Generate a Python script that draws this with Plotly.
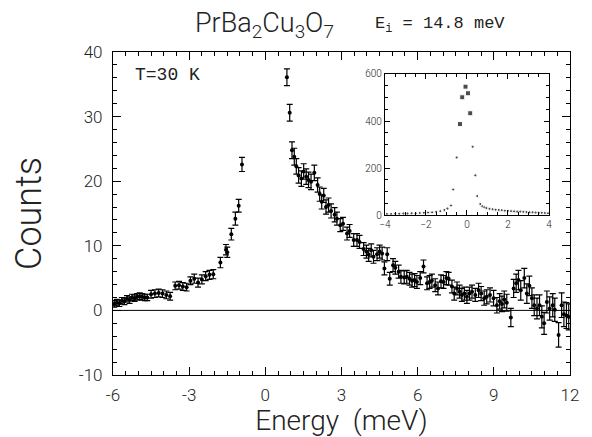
import plotly.graph_objects as go

# ---- main data (Energy meV, Counts, error) ----
energy_left = [-5.95, -5.85, -5.75, -5.65, -5.55, -5.45, -5.35, -5.25, -5.15, -5.05,
               -4.95, -4.85, -4.75, -4.65, -4.5, -4.35, -4.2, -4.05, -3.9, -3.75,
               -3.55, -3.4, -3.25, -3.1, -2.95, -2.8, -2.65, -2.5, -2.35, -2.2,
               -2.05, -1.77, -1.55, -1.5, -1.34, -1.18, -1.05, -0.92]
counts_left = [1.0, 1.2, 1.1, 1.5, 1.4, 1.8, 1.6, 2.0, 1.9, 2.1,
               2.2, 2.1, 2.0, 2.0, 2.5, 2.6, 2.7, 2.6, 2.4, 2.2,
               3.8, 3.9, 3.7, 3.6, 4.6, 4.9, 4.3, 4.8, 5.3, 5.5,
               5.6, 7.4, 9.4, 9.0, 11.8, 14.2, 16.2, 22.6]
err_left = [0.5, 0.5, 0.5, 0.5, 0.5, 0.5, 0.5, 0.5, 0.5, 0.5,
            0.5, 0.5, 0.5, 0.5, 0.6, 0.6, 0.6, 0.6, 0.6, 0.6,
            0.6, 0.6, 0.6, 0.6, 0.6, 0.7, 0.7, 0.7, 0.7, 0.7,
            0.7, 0.8, 0.8, 0.8, 0.9, 1.0, 1.0, 1.1]

energy_right = [0.85, 0.96, 1.05, 1.14, 1.22, 1.31, 1.42, 1.51, 1.61, 1.70,
                1.80, 1.93, 2.06, 2.14, 2.22, 2.30, 2.39, 2.49, 2.59, 2.73,
                2.82, 2.95, 3.06, 3.22, 3.32, 3.48, 3.61, 3.71, 3.87, 3.98,
                4.07, 4.17, 4.26, 4.40, 4.50, 4.60, 4.69, 4.80, 4.90, 5.03,
                5.12, 5.25, 5.34, 5.47, 5.57, 5.68, 5.78, 5.88, 5.97, 6.10,
                6.23, 6.37, 6.47, 6.56, 6.69, 6.80, 6.92, 7.02, 7.13, 7.22,
                7.35, 7.44, 7.55, 7.65, 7.74, 7.84, 7.94, 8.04, 8.14, 8.27,
                8.40, 8.50, 8.62, 8.72, 8.85, 8.99, 9.12, 9.23, 9.32, 9.41,
                9.51, 9.67, 9.78, 9.88, 9.97, 10.06, 10.20, 10.30, 10.40, 10.50,
                10.59, 10.70, 10.80, 10.89, 10.98, 11.09, 11.20, 11.32, 11.40, 11.55,
                11.67, 11.76, 11.86, 11.95]
counts_right = [36.1, 30.6, 24.8, 23.8, 22.3, 20.9, 20.4, 21.5, 20.7, 20.2,
                19.9, 21.3, 19.4, 18.0, 16.8, 17.8, 16.0, 16.3, 15.4, 14.8,
                14.2, 13.2, 13.4, 11.9, 12.3, 10.9, 10.9, 10.6, 9.5, 9.1,
                8.6, 9.3, 8.3, 8.7, 9.1, 8.8, 6.5, 8.7, 4.9, 7.0,
                6.6, 6.0, 5.2, 5.1, 5.2, 4.9, 4.6, 4.7, 4.4, 5.0,
                6.8, 4.2, 4.4, 4.6, 3.9, 3.4, 4.5, 4.4, 5.0, 4.9,
                3.7, 2.6, 3.4, 2.9, 2.4, 2.6, 2.1, 2.6, 2.9, 2.4,
                3.1, 2.6, 1.9, 2.1, 2.4, 1.9, 0.8, 1.4, 1.0, 1.7,
                1.2, -1.1, 3.4, 4.2, 4.7, 3.1, 5.0, 2.6, 3.8, 1.9,
                0.8, 0.3, 0.8, -1.0, -2.0, 1.3, 0.3, 0.8, 0.1, -3.8,
                0.8, -0.6, -0.8, -1.0]
err_right = [1.3, 1.3, 1.3, 1.3, 1.2, 1.2, 1.2, 1.2, 1.2, 1.2,
             1.2, 1.2, 1.1, 1.1, 1.1, 1.1, 1.1, 1.1, 1.1, 1.1,
             1.0, 1.0, 1.0, 1.0, 1.0, 1.0, 1.0, 1.0, 1.0, 1.0,
             1.0, 1.0, 1.0, 1.0, 1.0, 1.0, 1.0, 1.0, 1.0, 1.0,
             1.0, 1.0, 1.0, 1.0, 1.0, 1.0, 1.0, 1.0, 1.0, 1.0,
             1.0, 1.0, 1.0, 1.0, 1.0, 1.0, 1.0, 1.0, 1.0, 1.0,
             1.0, 1.0, 1.0, 1.0, 1.0, 1.0, 1.0, 1.0, 1.0, 1.0,
             1.1, 1.1, 1.1, 1.1, 1.1, 1.2, 1.2, 1.2, 1.2, 1.3,
             1.3, 1.4, 1.4, 1.4, 1.5, 1.5, 1.5, 1.5, 1.5, 1.6,
             1.6, 1.6, 1.6, 1.7, 1.7, 1.7, 1.8, 1.8, 1.8, 1.9,
             1.9, 1.9, 2.0, 2.0]

# ---- inset data ----
inset_energy = [-3.9, -3.7, -3.5, -3.3, -3.1, -2.9, -2.7, -2.5, -2.3, -2.1,
                -1.9, -1.7, -1.5, -1.3, -1.1, -0.95, -0.78, -0.67, -0.5, -0.34,
                -0.23, -0.07, 0.05, 0.16, 0.28, 0.41, 0.5, 0.65, 0.75, 0.85,
                0.95, 1.1, 1.25, 1.4, 1.55, 1.7, 1.85, 2.0, 2.15, 2.3,
                2.45, 2.6, 2.75, 2.9, 3.05, 3.2, 3.35, 3.5, 3.65, 3.8, 3.95]
inset_counts = [5, 5, 6, 6, 7, 7, 8, 8, 9, 10,
                11, 12, 14, 17, 22, 28, 41, 109, 245, 387,
                501, 546, 518, 433, 291, 169, 81, 47, 38, 33,
                30, 27, 25, 23, 22, 21, 19, 18, 17, 16,
                15, 15, 14, 13, 12, 12, 11, 10, 10, 9, 8]

x_ticks = [-6, -3, 0, 3, 6, 9, 12]
y_ticks = [-10, 0, 10, 20, 30, 40]
inset_x_ticks = [-4, -2, 0, 2, 4]
inset_y_ticks = [0, 200, 400, 600]

FONT = "Roboto, DejaVu Sans, sans-serif"
MONO = "Liberation Mono, DejaVu Sans Mono, monospace"
W = 300
TXT = "#222222"

# page body has an 8px margin: the figure is sized so it ends at the window edge
OFF = 8
FW, FH = 592 - OFF, 437 - OFF
ML, MT, MR, MB = 113 - OFF, 52 - OFF, 22, 62
pw, ph = FW - ML - MR, FH - MT - MB

fig = go.Figure()

# zero line
fig.add_trace(go.Scatter(x=[x_ticks[0], x_ticks[-1]], y=[0, 0], mode="lines",
                         line=dict(color="black", width=1), showlegend=False,
                         hoverinfo="skip"))

for xs, ys, es in [(energy_left, counts_left, err_left),
                   (energy_right, counts_right, err_right)]:
    fig.add_trace(go.Scatter(
        x=xs, y=ys, mode="markers",
        marker=dict(color="black", size=4),
        error_y=dict(type="data", array=es, color="black", thickness=1.2, width=3),
        showlegend=False))

sizes = [5 if c > 350 else 3 for c in inset_counts]
symbols = ["square" if c > 350 else "circle" for c in inset_counts]
fig.add_trace(go.Scatter(
    x=inset_energy, y=inset_counts, mode="markers", xaxis="x2", yaxis="y2",
    marker=dict(color="black", size=sizes, symbol=symbols), showlegend=False))

axis_common = dict(showline=True, linecolor="black", linewidth=1.2, mirror="ticks",
                   ticks="inside", ticklen=8, tickcolor="black", showgrid=False,
                   zeroline=False)


def px_to_paper(px, py):
    return (px - 113) / pw, (437 - 62 - py) / ph


tx, ty = px_to_paper(264, 25)
ex, ey = px_to_paper(440, 25)

fig.update_layout(
    width=FW, height=FH,
    margin=dict(l=ML, r=MR, t=MT, b=MB),
    paper_bgcolor="white", plot_bgcolor="white",
    font=dict(family=FONT, color=TXT, weight=W),
    xaxis=dict(range=[-6, 12], tickvals=x_ticks, ticktext=[str(v) for v in x_ticks],
               tickfont=dict(size=17, weight=W), ticklabelstandoff=4,
               minor=dict(dtick=0.5, ticks="inside", ticklen=4,
                          tickcolor="black", showgrid=False),
               title=dict(text="Energy\u00a0\u00a0(meV)", font=dict(size=28, weight=W),
                          standoff=2),
               **axis_common),
    yaxis=dict(range=[-10, 40], tickvals=y_ticks, ticktext=[str(v) for v in y_ticks],
               tickfont=dict(size=17, weight=W), ticklabelstandoff=6,
               minor=dict(dtick=2, ticks="inside", ticklen=4,
                          tickcolor="black", showgrid=False),
               title=dict(text="Counts", font=dict(size=36, weight=W), standoff=26),
               **axis_common),
    xaxis2=dict(domain=[0.595, 0.954], anchor="y2", range=[-4, 4],
                tickvals=inset_x_ticks, tickfont=dict(size=10),
                minor=dict(dtick=0.5, ticks="inside", ticklen=3, tickcolor="black"),
                showline=True, linecolor="black", linewidth=1, mirror="ticks",
                ticks="inside", ticklen=5, tickcolor="black", showgrid=False,
                zeroline=False),
    yaxis2=dict(domain=[0.495, 0.932], anchor="x2", range=[0, 600],
                tickvals=inset_y_ticks, tickfont=dict(size=10),
                minor=dict(dtick=50, ticks="inside", ticklen=3, tickcolor="black"),
                showline=True, linecolor="black", linewidth=1, mirror="ticks",
                ticks="inside", ticklen=5, tickcolor="black", showgrid=False,
                zeroline=False),
    annotations=[
        dict(text="PrBa<sub>2</sub>Cu<sub>3</sub>O<sub>7</sub>", x=tx, y=ty,
             xref="paper", yref="paper", xanchor="center", yanchor="middle",
             showarrow=False, font=dict(size=27, weight=W)),
        dict(text="E<sub>i</sub> = 14.8 meV", x=ex, y=ey,
             xref="paper", yref="paper", xanchor="center", yanchor="middle",
             showarrow=False, font=dict(size=17, family=MONO, weight=400)),
        dict(text="T=30 K", x=-5.2, y=36.4, xref="x", yref="y", xanchor="left",
             yanchor="middle", showarrow=False,
             font=dict(size=18, family=MONO, weight=400)),
    ],
)

fig.write_html("out.html")
